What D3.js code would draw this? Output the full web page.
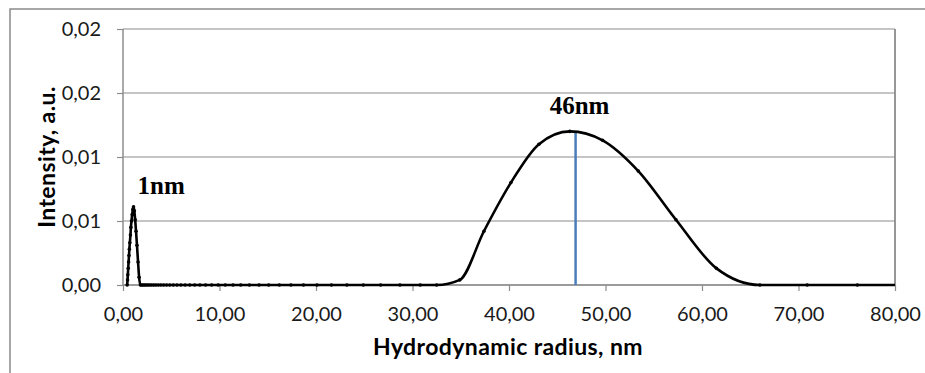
<!DOCTYPE html>
<html>
<head>
<meta charset="utf-8">
<script src="https://cdn.jsdelivr.net/npm/d3@7"></script>
<style>
  body { margin: 0; background: #fff; }
</style>
</head>
<body>
<div id="chart"></div>
<script>
// hydrodynamic radius bins (nm)
const radius = [
  0.43, 0.47, 0.50, 0.54, 0.58, 0.62, 0.66, 0.71, 0.77, 0.82, 0.88, 0.95,
  1.02, 1.09, 1.17, 1.26, 1.35, 1.45, 1.56, 1.67, 1.80, 1.93, 2.07, 2.22,
  2.38, 2.56, 2.75, 2.95, 3.17, 3.40, 3.65, 3.92, 4.21, 4.52, 4.85, 5.21,
  5.59, 6.00, 6.44, 6.92, 7.43, 7.97, 8.56, 9.19, 9.86, 10.6, 11.4, 12.2,
  13.1, 14.1, 15.1, 16.2, 17.4, 18.7, 20.1, 21.6, 23.2, 24.9, 26.7, 28.7,
  30.8, 32.5, 34.9, 37.4, 40.2, 43.1, 46.3, 49.7, 53.4, 57.3, 61.5, 66.0,
  70.9, 76.1, 81.7
];
const intensity = [
  0, 0.0004, 0.0008, 0.0013, 0.0018, 0.0023, 0.0028, 0.0033, 0.0039, 0.0045, 0.0050, 0.0055,
  0.0059, 0.0061, 0.0058, 0.0051, 0.0042, 0.0031, 0.0018, 0.0006, 0, 0, 0, 0,
  0, 0, 0, 0, 0, 0, 0, 0, 0, 0, 0, 0,
  0, 0, 0, 0, 0, 0, 0, 0, 0, 0, 0, 0,
  0, 0, 0, 0, 0, 0, 0, 0, 0, 0, 0, 0,
  0, 0, 0.0004, 0.0042, 0.0080, 0.0110, 0.0120, 0.0113, 0.0089, 0.0051, 0.0013, 0,
  0, 0, 0
];
const xTicks = [0, 10, 20, 30, 40, 50, 60, 70, 80];
const xTickLabels = ["0,00", "10,00", "20,00", "30,00", "40,00", "50,00", "60,00", "70,00", "80,00"];
const yTicks = [0, 0.005, 0.01, 0.015, 0.02];
const yTickLabels = ["0,00", "0,01", "0,01", "0,02", "0,02"];
// peak labels; the main peak also gets a blue marker line
const peaks = [
  { label: "1nm", x: 1.09, y: 0.0061, line: false },
  { label: "46nm", x: 46.9, y: 0.0120, line: true }
];

const W = 925, H = 373;
const margin = { top: 29, right: 30, bottom: 88, left: 123 };
const width  = W - margin.left - margin.right;
const height = H - margin.top - margin.bottom;

const sans = "Lato, 'Open Sans', sans-serif";

const svg = d3.select("#chart")
  .append("svg")
  .attr("width", W)
  .attr("height", H);

// outer chart frame
svg.append("rect")
  .attr("x", 10).attr("y", 9)
  .attr("width", W).attr("height", H)
  .attr("fill", "none")
  .attr("stroke", "#8a8a8a")
  .attr("stroke-width", 1.5);

const g = svg.append("g")
  .attr("transform", `translate(${margin.left},${margin.top})`);

const x = d3.scaleLinear().domain([0, 80]).range([0, width]);
const y = d3.scaleLinear().domain([0, 0.02]).range([height, 0]);

// gridlines
g.selectAll(".grid")
  .data(yTicks)
  .enter().append("line")
  .attr("x1", 0).attr("x2", width)
  .attr("y1", d => y(d)).attr("y2", d => y(d))
  .attr("stroke", "#8c8c8c")
  .attr("stroke-width", 1.2);

// right border of plot area
g.append("line")
  .attr("x1", width).attr("x2", width)
  .attr("y1", 0).attr("y2", height)
  .attr("stroke", "#8c8c8c")
  .attr("stroke-width", 1.8);

// axes
const xAxis = g.append("g")
  .attr("transform", `translate(0,${height})`)
  .call(d3.axisBottom(x).tickValues(xTicks).tickSize(6)
    .tickFormat((d, i) => xTickLabels[i]));
const yAxis = g.append("g")
  .call(d3.axisLeft(y).tickValues(yTicks).tickSize(6)
    .tickFormat((d, i) => yTickLabels[i]));

[xAxis, yAxis].forEach(a => {
  a.select(".domain").attr("stroke", "#8c8c8c").attr("stroke-width", 1.5);
  a.selectAll(".tick line").attr("stroke", "#8c8c8c").attr("stroke-width", 1.2);
  a.selectAll(".tick text")
    .style("font-family", sans)
    .style("font-size", "20px")
    .attr("fill", "#1a1a1a");
});
xAxis.selectAll(".tick text").attr("y", 36).attr("dy", 0);
yAxis.selectAll(".tick text").attr("x", -22);
xAxis.select(".domain").attr("d", `M0,0H${width}`);
yAxis.select(".domain").attr("d", `M0,0V${height}`);

// axis titles
svg.append("text")
  .attr("x", 508)
  .attr("y", 355)
  .attr("text-anchor", "middle")
  .style("font-family", sans)
  .style("font-weight", "bold")
  .style("font-size", "23px")
  .style("letter-spacing", "0.4px")
  .text("Hydrodynamic radius, nm");

svg.append("text")
  .attr("transform", "rotate(-90)")
  .attr("x", -157)
  .attr("y", 55)
  .attr("text-anchor", "middle")
  .style("font-family", sans)
  .style("font-weight", "bold")
  .style("font-size", "23px")
  .style("letter-spacing", "0.4px")
  .text("Intensity, a.u.");

const plot = g.append("g");
g.append("clipPath").attr("id", "clip")
  .append("rect").attr("x", -3).attr("y", -3)
  .attr("width", width + 3).attr("height", height + 6);
plot.attr("clip-path", "url(#clip)");

const pts = radius.map((r, i) => ({ r, v: intensity[i] }));

// blue marker line at main peak
plot.selectAll(".peakline")
  .data(peaks.filter(p => p.line))
  .enter().append("line")
  .attr("x1", d => x(d.x)).attr("x2", d => x(d.x))
  .attr("y1", y(0)).attr("y2", d => y(d.y))
  .attr("stroke", "#4a7ebb")
  .attr("stroke-width", 2.5);

const line = d3.line()
  .x(d => x(d.r))
  .y(d => y(d.v))
  .curve(d3.curveMonotoneX);

plot.append("path")
  .datum(pts)
  .attr("fill", "none")
  .attr("stroke", "#000")
  .attr("stroke-width", 2.6)
  .attr("d", line);

plot.selectAll("circle")
  .data(pts)
  .enter().append("circle")
  .attr("cx", d => x(d.r))
  .attr("cy", d => y(d.v))
  .attr("r", 1.8)
  .attr("fill", "#000");

// peak labels
g.selectAll(".peaklabel")
  .data(peaks)
  .enter().append("text")
  .attr("x", d => d.line ? x(d.x) + 4 : x(d.x) + 4)
  .attr("y", d => d.line ? y(d.y) - 17 : y(d.y) - 13)
  .attr("text-anchor", d => d.line ? "middle" : "start")
  .style("font-family", "'Liberation Serif', serif")
  .style("font-weight", "bold")
  .style("font-size", "25px")
  .text(d => d.label);
</script>
</body>
</html>
